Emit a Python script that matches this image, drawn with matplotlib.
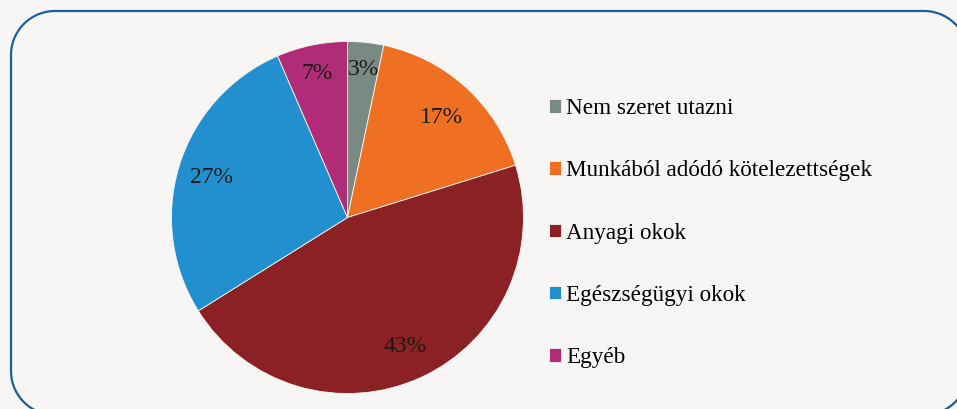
import matplotlib
matplotlib.use("Agg")
import numpy as np
import matplotlib.pyplot as plt
from matplotlib.lines import Line2D

# Data (slice shares as drawn, labels as printed on the chart)
categories = ["Nem szeret utazni", "Munkából adódó kötelezettségek",
              "Anyagi okok", "Egészségügyi okok", "Egyéb"]
shares = [3.3, 16.9, 45.9, 27.4, 6.5]
pct_labels = ["3%", "17%", "43%", "27%", "7%"]
colors = ["#7a8a83", "#f07023", "#8b2125", "#2290cf", "#b02c77"]

# label distance from centre (fraction of radius), per slice
label_r = [0.86, 0.79, 0.79, 0.81, 0.85]

plt.rcParams["font.family"] = ["Liberation Serif", "DejaVu Serif"]
bg = "#f7f6f4"

W, H = 957, 409
fig = plt.figure(figsize=(W / 100, H / 100), dpi=100, facecolor=bg)

# rounded frame, built in pixel units then mapped to figure fraction
x0, x1, y0, y1, rc = 11, 968, -6, 398, 44
t = np.linspace(0, np.pi / 2, 30)
px, py = [], []
for (ccx, ccy, a0) in [(x1 - rc, y1 - rc, 0), (x0 + rc, y1 - rc, np.pi / 2),
                       (x0 + rc, y0 + rc, np.pi), (x1 - rc, y0 + rc, 1.5 * np.pi)]:
    px += list(ccx + rc * np.cos(a0 + t))
    py += list(ccy + rc * np.sin(a0 + t))
px.append(px[0])
py.append(py[0])
fig.add_artist(Line2D(np.array(px) / W, np.array(py) / H, transform=fig.transFigure,
                      color="#1b5f9f", linewidth=1.6, clip_on=False))

cx, cy, r = 347.5, H - 217.5, 176
ax = fig.add_axes([(cx - r) / W, (cy - r) / H, 2 * r / W, 2 * r / H])
ax.set_facecolor(bg)

wedges, _ = ax.pie(shares, colors=colors, startangle=90, counterclock=False,
                   wedgeprops=dict(linewidth=0.6, edgecolor=bg))
for w, lab, d in zip(wedges, pct_labels, label_r):
    mid = np.deg2rad((w.theta1 + w.theta2) / 2)
    ax.text(d * np.cos(mid), d * np.sin(mid), lab, ha="center",
            va="center_baseline", fontsize=17, color="#1a1a1a")
ax.set_xlim(-1, 1)
ax.set_ylim(-1, 1)

fig.legend(wedges, categories, loc="upper left",
           bbox_to_anchor=(549 / W, 1 - 98 / H), frameon=False,
           fontsize=16.7, handlelength=0.52, handleheight=0.52,
           handletextpad=0.22, labelspacing=1.78, borderpad=0, borderaxespad=0)

fig.savefig("out.png", dpi=100, facecolor=bg)
